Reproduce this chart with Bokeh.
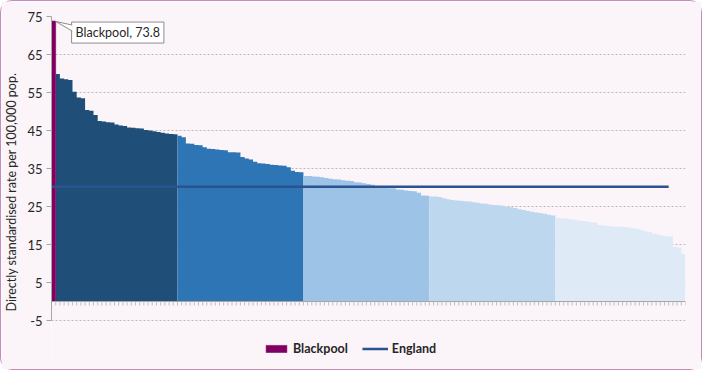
from bokeh.plotting import figure
from bokeh.models import Range1d, FixedTicker, Legend, LegendItem, Label
from bokeh.embed import file_html
from bokeh.resources import INLINE

highlight_name = "Blackpool"
rates = [
    73.8, 59.9, 58.7, 58.5, 58.3, 55.2, 53.7, 53.5, 50.4, 50.2,
    49.1, 47.5, 47.4, 47.2, 47.1, 46.6, 46.3, 46.2, 45.8, 45.7,
    45.6, 45.5, 45.1, 45.0, 44.8, 44.6, 44.4, 44.2, 44.1, 44.0,
    43.6, 43.2, 41.6, 41.5, 41.2, 41.1, 40.6, 40.2, 40.1, 40.0,
    39.9, 39.8, 39.3, 39.3, 39.2, 38.0, 37.6, 37.4, 36.8, 36.4,
    36.3, 36.2, 36.0, 35.9, 35.8, 35.7, 35.3, 34.4, 34.1, 34.0,
    33.0, 33.0, 32.9, 32.8, 32.7, 32.5, 32.3, 32.2, 32.1, 31.9,
    31.8, 31.7, 31.4, 31.3, 31.1, 30.9, 30.7, 30.4, 30.2, 29.9,
    29.8, 29.8, 29.5, 29.4, 29.2, 29.1, 29.0, 28.6, 27.9, 27.8,
    27.6, 27.6, 27.5, 27.2, 26.9, 26.7, 26.6, 26.5, 26.4, 26.3,
    26.1, 26.0, 25.8, 25.7, 25.5, 25.4, 25.3, 25.2, 24.9, 24.8,
    24.6, 24.3, 24.1, 23.8, 23.6, 23.4, 23.3, 23.1, 22.8, 22.6,
    22.0, 21.9, 21.9, 21.7, 21.6, 21.4, 21.2, 21.1, 20.9, 20.8,
    20.1, 20.0, 19.9, 19.8, 19.7, 19.7, 19.6, 19.5, 19.3, 19.2,
    18.8, 18.5, 18.3, 17.9, 17.7, 17.3, 17.2, 17.1, 14.4, 14.2,
    12.5,
]
quintile_sizes = [30, 30, 30, 30, 31]
quintile_colors = ["#1F4E79", "#2E75B6", "#9DC3E6", "#BDD7EE", "#DEEBF7"]
highlight_color = "#7F0060"
england_rate = 30.2
england_span = 147
england_color = "#2B5390"
y_ticks = [-5, 5, 15, 25, 35, 45, 55, 65, 75]
y_min, y_max = -5, 75
y_title = "Directly standardised rate per 100,000 pop."

FONT = "Lato"
BG = "#FBF4F9"
AXIS_GREY = "#A6A6A6"

W, H = 702, 370
BORDER = 1.5
MB_LEFT, MB_RIGHT, MB_TOP, MB_BOTTOM = 50, 18, 15, 4
PX_PER_Y = 3.80  # pixel scale of the value axis

n = len(rates)
frame_h = H - MB_TOP - MB_BOTTOM
frame_w = W - MB_LEFT - MB_RIGHT
y_bottom = y_max - frame_h / PX_PER_Y   # extra room below for the legend
px_per_x = frame_w / n

p = figure(width=W, height=H, output_backend="svg", toolbar_location=None,
           x_range=Range1d(0, n), y_range=Range1d(y_bottom, y_max),
           min_border_left=MB_LEFT, min_border_right=MB_RIGHT,
           min_border_top=MB_TOP, min_border_bottom=MB_BOTTOM)
p.background_fill_color = BG
p.border_fill_color = BG
p.outline_line_color = None

# quintile blocks drawn as stepped areas (one shape per quintile, no seams)
start = 0
for size, col in zip(quintile_sizes, quintile_colors):
    first = max(start, 1)  # highlighted area drawn separately
    stop = start + size
    xs = list(range(first, stop + 1))
    ys = rates[first:stop] + [rates[stop - 1]]
    p.varea_step(x=xs, y1=[0] * len(xs), y2=ys, step_mode="after",
                 fill_color=col)
    start = stop

bp = p.quad(left=[0], right=[1], bottom=0, top=[rates[0]],
            fill_color=highlight_color, line_color=highlight_color, line_width=0.5)
eng = p.line(x=[0, england_span], y=[england_rate, england_rate],
             line_color=england_color, line_width=2.5)

# category axis at zero: baseline and tick marks
p.segment(x0=[0], y0=[0], x1=[n], y1=[0], line_color=AXIS_GREY, line_width=1)
p.segment(x0=list(range(n + 1)), y0=0, x1=list(range(n + 1)), y1=-4 / PX_PER_Y,
          line_color="#B4B4B4", line_width=0.8)
p.xaxis.visible = False

p.yaxis.ticker = FixedTicker(ticks=y_ticks)
p.yaxis.bounds = (y_min, y_max)
p.yaxis.major_label_overrides = {t: str(t) for t in y_ticks}
p.yaxis.axis_label = y_title
p.yaxis.axis_label_text_font = FONT
p.yaxis.axis_label_text_font_size = "12.5px"
p.yaxis.axis_label_text_font_style = "normal"
p.yaxis.axis_label_text_color = "#262626"
p.yaxis.axis_label_standoff = 5
p.yaxis.major_label_text_font = FONT
p.yaxis.major_label_text_font_size = "13px"
p.yaxis.major_label_text_color = "#262626"
p.yaxis.axis_line_color = AXIS_GREY
p.yaxis.major_tick_line_color = AXIS_GREY
p.yaxis.major_tick_out = 5
p.yaxis.major_tick_in = 0
p.yaxis.minor_tick_line_color = None
p.yaxis.major_label_standoff = 4

p.xgrid.grid_line_color = None
p.ygrid.ticker = FixedTicker(ticks=y_ticks)
p.ygrid.grid_line_color = "#B8B8B8"
p.ygrid.grid_line_dash = "2 2"
p.ygrid.grid_line_width = 1

lbl = Label(x=0.5, y=rates[0], x_offset=18, y_offset=-1,
            text=f"{highlight_name}, {rates[0]}", anchor="top_left",
            text_font=FONT, text_font_size="12.5px", text_color="#262626",
            padding=(4, 3), border_line_color="#8C8C8C", border_line_width=1,
            background_fill_color="white")
p.add_layout(lbl)
tip_x = 1.0
tip_y = rates[0] - 0.1
base_x = 0.5 + 18 / px_per_x + 0.15
base_y1 = rates[0] - 4 / PX_PER_Y
base_y2 = rates[0] - 10 / PX_PER_Y
p.patch(x=[tip_x, base_x, base_x], y=[tip_y, base_y1, base_y2],
        fill_color="white", line_color=None, level="overlay")
p.multi_line(xs=[[base_x, tip_x, base_x]], ys=[[base_y1, tip_y, base_y2]],
             line_color="#8C8C8C", line_width=1, level="overlay")

legend = Legend(items=[LegendItem(label=highlight_name, renderers=[bp]),
                       LegendItem(label="England", renderers=[eng])],
                orientation="horizontal", location=(212, 11),
                label_text_font=FONT, label_text_font_size="12.5px",
                label_text_font_style="bold", label_text_color="#262626",
                glyph_width=26, glyph_height=9, label_standoff=4, spacing=14,
                border_line_color=None, background_fill_alpha=0,
                padding=2, margin=0)
p.add_layout(legend, "center")

p.styles = {"border": f"{BORDER}px solid #C48BBE", "border-radius": "12px"}

open("out.html", "w").write(file_html(p, INLINE))
